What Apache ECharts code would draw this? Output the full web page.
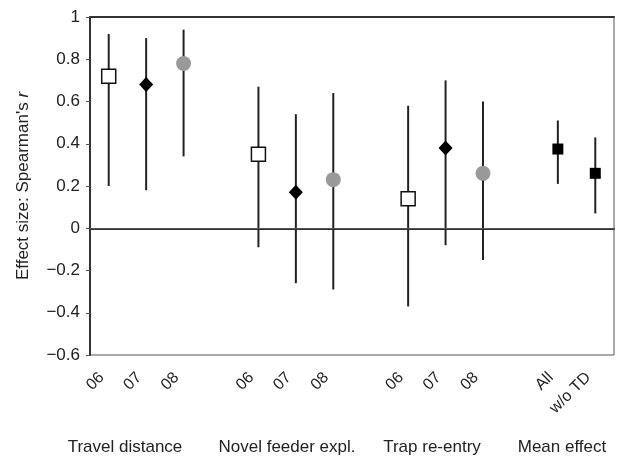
<!DOCTYPE html>
<html>
<head>
<meta charset="utf-8">
<script src="https://cdn.jsdelivr.net/npm/echarts@6/dist/echarts.min.js"></script>
<style>
  html, body { margin: 0; padding: 0; background: #fff; }
  #chart { width: 622px; height: 457px; }
</style>
</head>
<body>
<div id="chart"></div>
<script>
// tick labels along x (blank slots separate the groups)
var categories = ['06', '07', '08', '', '06', '07', '08', '', '06', '07', '08', '', 'All', 'w/o TD'];
// effect size (Spearman's r) and its CI
var effect = [0.72, 0.68, 0.78, null, 0.35, 0.17, 0.23, null, 0.14, 0.38, 0.26, null, 0.375, 0.26];
var ciLow  = [0.20, 0.18, 0.34, null, -0.09, -0.26, -0.29, null, -0.37, -0.08, -0.15, null, 0.21, 0.07];
var ciHigh = [0.92, 0.90, 0.94, null, 0.67, 0.54, 0.64, null, 0.58, 0.70, 0.60, null, 0.51, 0.43];
// what kind of marker each slot gets
var markerKind = ['y06', 'y07', 'y08', '', 'y06', 'y07', 'y08', '', 'y06', 'y07', 'y08', '', 'mean', 'mean'];
var groupLabels = ['Travel distance', 'Novel feeder expl.', 'Trap re-entry', 'Mean effect'];
var yTicks = [-0.6, -0.4, -0.2, 0, 0.2, 0.4, 0.6, 0.8, 1];

var FONT = 'Liberation Sans, Arial, sans-serif';

function pointsOf(kind) {
    var out = [];
    for (var i = 0; i < effect.length; i++) {
        if (markerKind[i] === kind) out.push([i, effect[i]]);
    }
    return out;
}

var bars = [];
for (var i = 0; i < effect.length; i++) {
    if (effect[i] !== null) bars.push([i, ciLow[i], ciHigh[i]]);
}

var myChart = echarts.init(document.getElementById('chart'));

var groupText = function (x, txt) {
    return {
        type: 'text', x: x, y: 447,
        style: { text: txt, font: '17px ' + FONT, fill: '#222', textAlign: 'center', textVerticalAlign: 'middle' }
    };
};

var option = {
    backgroundColor: '#fff',
    animation: false,
    grid: {
        left: 90, right: 8, top: 17, bottom: 102,
        show: true, borderColor: '#555', borderWidth: 1
    },
    xAxis: [
        {
            type: 'category',
            data: categories,
            boundaryGap: true,
            axisLine: { lineStyle: { color: '#333', width: 2 } },
            axisTick: { show: false },
            axisLabel: {
                interval: 0,
                rotate: 45,
                margin: 13,
                fontFamily: FONT,
                fontSize: 16,
                color: '#222',
                padding: [0, 10, 0, 0]
            },
            splitLine: { show: false }
        },
        {
            // just the dark top edge of the frame
            type: 'category',
            data: categories,
            position: 'top',
            axisLine: { lineStyle: { color: '#333', width: 2 } },
            axisTick: { show: false },
            axisLabel: { show: false }
        }
    ],
    yAxis: {
        type: 'value',
        min: yTicks[0],
        max: yTicks[yTicks.length - 1],
        interval: 0.2,
        name: "Effect size: Spearman's {i|r}",
        nameLocation: 'middle',
        nameGap: 58,
        nameTextStyle: {
            fontFamily: FONT, fontSize: 17, color: '#222',
            rich: { i: { fontFamily: FONT, fontSize: 17, fontStyle: 'italic', color: '#222' } }
        },
        axisLine: { show: true, lineStyle: { color: '#333', width: 2 } },
        axisTick: { show: true, length: 4, lineStyle: { color: '#555' } },
        axisLabel: {
            fontFamily: FONT,
            fontSize: 17,
            color: '#222',
            margin: 10,
            formatter: function (v) {
                var r = Math.round(v * 10) / 10;
                return String(r).replace('-', '\u2212');
            }
        },
        splitLine: { show: false }
    },
    series: [
        {
            name: 'ci',
            type: 'custom',
            data: bars,
            z: 2,
            renderItem: function (params, api) {
                var x = api.value(0);
                var lo = api.coord([x, api.value(1)]);
                var hi = api.coord([x, api.value(2)]);
                return {
                    type: 'line',
                    shape: { x1: lo[0], y1: lo[1], x2: hi[0], y2: hi[1] },
                    style: { stroke: '#222', lineWidth: 2 }
                };
            },
            markLine: {
                silent: true,
                symbol: 'none',
                label: { show: false },
                lineStyle: { color: '#555', width: 1, type: 'solid' },
                data: [{ yAxis: 0 }]
            }
        },
        {
            name: '06', type: 'scatter', data: pointsOf('y06'), z: 5,
            symbol: 'rect', symbolSize: 14,
            itemStyle: { color: '#fff', borderColor: '#111', borderWidth: 1.5, opacity: 1 }
        },
        {
            name: '07', type: 'scatter', data: pointsOf('y07'), z: 5,
            symbol: 'diamond', symbolSize: [14, 15],
            itemStyle: { color: '#000', opacity: 1 }
        },
        {
            name: '08', type: 'scatter', data: pointsOf('y08'), z: 5,
            symbol: 'circle', symbolSize: 15,
            itemStyle: { color: '#999', opacity: 1 }
        },
        {
            name: 'mean', type: 'scatter', data: pointsOf('mean'), z: 5,
            symbol: 'rect', symbolSize: 11,
            itemStyle: { color: '#000', opacity: 1 }
        }
    ],
    graphic: [
        groupText(125, groupLabels[0]),
        groupText(287, groupLabels[1]),
        groupText(432, groupLabels[2]),
        groupText(562, groupLabels[3])
    ]
};

myChart.setOption(option);
window.onresize = myChart.resize;
</script>
</body>
</html>
